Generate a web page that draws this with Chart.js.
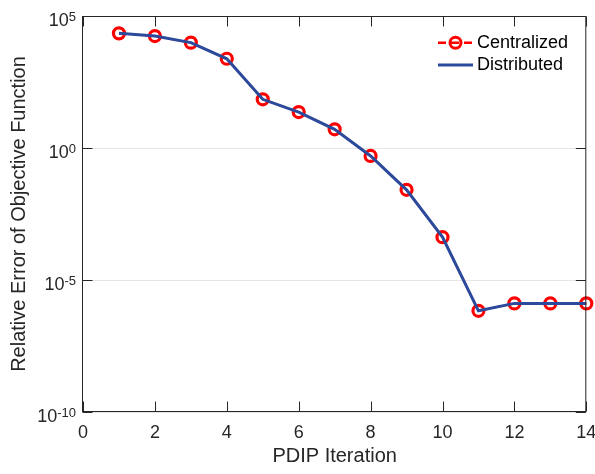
<!DOCTYPE html>
<html>
<head>
<meta charset="utf-8">
<script src="https://cdn.jsdelivr.net/npm/chart.js@4"></script>
<style>
  html, body { margin: 0; padding: 0; background: #fff; }
</style>
</head>
<body>
<canvas id="lineChart" width="595" height="474"></canvas>
<script>
// data
const iterations = [1, 2, 3, 4, 5, 6, 7, 8, 9, 10, 11, 12, 13, 14];
const centralized = [2.2e4, 1.74e4, 9.8e3, 2.4e3, 70, 23, 5.1, 0.5, 0.026, 4.2e-4, 6.8e-7, 1.3e-6, 1.3e-6, 1.3e-6];
const distributed = [2.2e4, 1.74e4, 9.8e3, 2.4e3, 70, 23, 5.1, 0.5, 0.026, 4.2e-4, 6.8e-7, 1.3e-6, 1.3e-6, 1.3e-6];
const xTicks = [0, 2, 4, 6, 8, 10, 12, 14];
const yTicks = [1e-10, 1e-5, 1, 1e5];

const FONT = "'Liberation Sans', Arial, Helvetica, sans-serif";
const TEXT = "#262626";
const RED = "#ff0000";
const BLUE = "#2b4a9b";

const toPoints = (ys) => iterations.map((x, i) => ({ x: x, y: ys[i] }));

// box, inward ticks, y labels with superscripts, legend
const frame = {
  id: "frame",
  afterDraw(chart) {
    const { ctx, chartArea: a, scales } = chart;
    const x = scales.x, y = scales.y;
    const L = a.left - 0.5, R = a.right - 0.5, T = a.top + 0.5, B = a.bottom - 0.5;
    ctx.save();
    ctx.strokeStyle = TEXT;
    ctx.lineWidth = 1;
    ctx.strokeRect(L, T, R - L, B - T);

    ctx.beginPath();
    xTicks.forEach((v) => {
      const px = Math.round(x.getPixelForValue(v)) + 0.5;
      ctx.moveTo(px, B); ctx.lineTo(px, B - 10);
      ctx.moveTo(px, T); ctx.lineTo(px, T + 10);
    });
    yTicks.forEach((v) => {
      const py = Math.round(y.getPixelForValue(v)) + 0.5;
      ctx.moveTo(L, py); ctx.lineTo(L + 10, py);
      ctx.moveTo(R, py); ctx.lineTo(R - 10, py);
    });
    ctx.stroke();

    // y tick labels 10^n
    ctx.fillStyle = TEXT;
    ctx.textBaseline = "alphabetic";
    ctx.textAlign = "left";
    yTicks.forEach((v) => {
      const py = y.getPixelForValue(v);
      const ex = String(Math.round(Math.log10(v)));
      ctx.font = "13px " + FONT;
      const supW = ctx.measureText(ex).width;
      ctx.font = "18px " + FONT;
      const baseW = ctx.measureText("10").width;
      const right = 76;
      ctx.fillText("10", right - supW - baseW, py + 10);
      ctx.font = "13px " + FONT;
      ctx.fillText(ex, right - supW, py + 5);
    });

    // legend
    const lx0 = 438, lx1 = 473, tx = 477;
    const rows = [42.7, 65];
    ctx.lineWidth = 2.5;
    ctx.strokeStyle = RED;
    ctx.setLineDash([8, 5]);
    ctx.beginPath();
    ctx.moveTo(lx0, rows[0]); ctx.lineTo(lx1, rows[0]);
    ctx.stroke();
    ctx.setLineDash([]);
    ctx.lineWidth = 3;
    ctx.beginPath();
    ctx.arc((lx0 + lx1) / 2, rows[0], 5.5, 0, Math.PI * 2);
    ctx.stroke();
    ctx.strokeStyle = BLUE;
    ctx.beginPath();
    ctx.moveTo(lx0, rows[1]); ctx.lineTo(lx1, rows[1]);
    ctx.stroke();

    ctx.font = "18px " + FONT;
    ctx.textBaseline = "middle";
    ctx.fillStyle = "#000";
    ctx.fillText("Centralized", tx, rows[0]);
    ctx.fillText("Distributed", tx, rows[1]);
    ctx.restore();
  },
};

const ctx = document.getElementById("lineChart").getContext("2d");
new Chart(ctx, {
  type: "line",
  data: {
    datasets: [
      {
        label: "Centralized",
        data: toPoints(centralized),
        borderColor: RED,
        borderWidth: 2,
        borderDash: [8, 5],
        pointStyle: "circle",
        pointRadius: 5.5,
        pointBorderWidth: 3.2,
        pointBorderColor: RED,
        pointBackgroundColor: "rgba(0,0,0,0)",
        tension: 0,
        clip: false,
        order: 2,
      },
      {
        label: "Distributed",
        data: toPoints(distributed),
        borderColor: BLUE,
        borderWidth: 3,
        pointRadius: 0,
        tension: 0,
        clip: false,
        order: 1,
      },
    ],
  },
  options: {
    responsive: false,
    animation: false,
    devicePixelRatio: 1,
    layout: { padding: { top: 16, right: 8, left: 0, bottom: 0 } },
    plugins: { legend: { display: false }, tooltip: { enabled: false } },
    scales: {
      x: {
        type: "linear",
        min: 0,
        max: 14,
        afterBuildTicks: (s) => { s.ticks = xTicks.map((v) => ({ value: v })); },
        afterFit: (s) => {
          s.height = 62;
          s.paddingLeft = 0;
          s.paddingRight = 0;
        },
        grid: { display: false, drawTicks: false },
        border: { display: false },
        ticks: { font: { family: FONT, size: 18 }, color: TEXT, padding: 10, maxRotation: 0 },
        title: {
          display: true,
          text: "PDIP Iteration",
          font: { family: FONT, size: 20 },
          color: TEXT,
          padding: { top: 0, bottom: 6 },
        },
      },
      y: {
        type: "logarithmic",
        min: 1e-10,
        max: 1e5,
        afterBuildTicks: (s) => { s.ticks = yTicks.map((v) => ({ value: v })); },
        afterFit: (s) => {
          s.width = 83;
          s.paddingTop = 0;
          s.paddingBottom = 0;
        },
        grid: { color: "#e6e6e6", lineWidth: 1, drawTicks: false },
        border: { display: false },
        ticks: { display: false },
        title: {
          display: true,
          text: "Relative Error of Objective Function",
          font: { family: FONT, size: 20 },
          color: TEXT,
          padding: { top: 7, bottom: 0 },
        },
      },
    },
  },
  plugins: [frame],
});
</script>
</body>
</html>
